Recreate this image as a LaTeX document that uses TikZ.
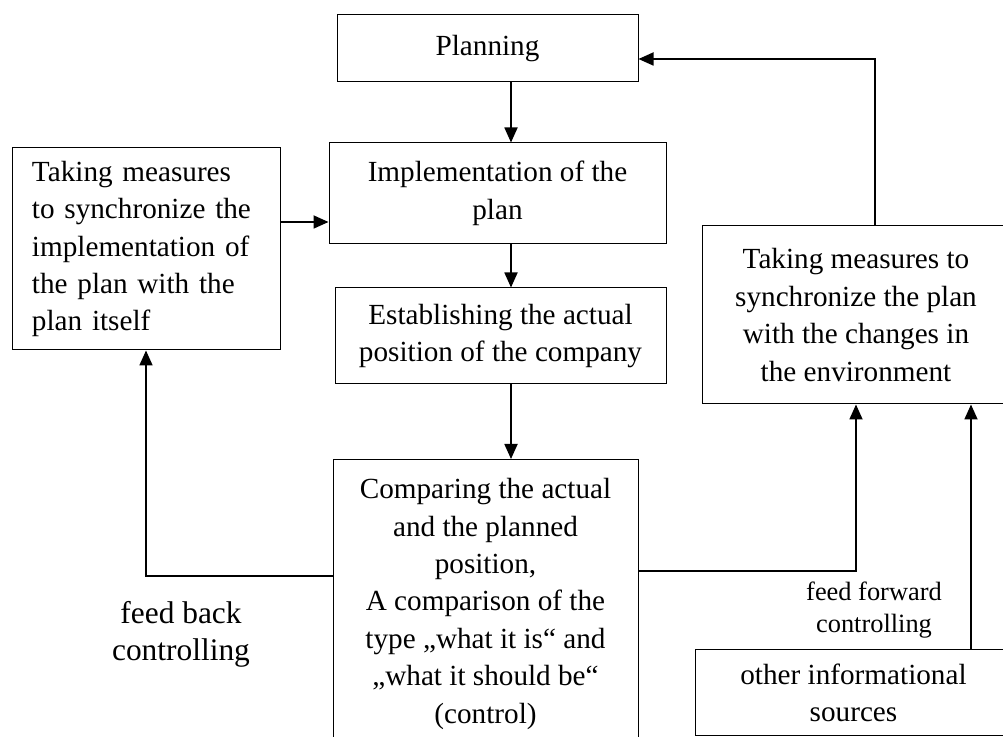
\documentclass[tikz,border=0pt]{standalone}
\usepackage{fontspec}
\setmainfont{Liberation Serif}
\usetikzlibrary{arrows.meta}

\tikzset{
  box/.style={draw, line width=0.5pt, align=center, font=\fontsize{14.6}{18.7}\selectfont},
  arr/.style={line width=0.9pt, -{Triangle[length=7.5pt,width=6.5pt]}},
}

\begin{document}
\begin{tikzpicture}[x=0.5pt,y=-0.5pt]
\useasboundingbox (0,0) rectangle (1003,737);

 \node[box, minimum width=150.5pt, minimum height=33.5pt] at (487.5,48.5) (plan) {Planning};
 \node[box, minimum width=168.5pt, minimum height=50.5pt] at (497.5,193.5) (impl) {Implementation of the\\plan};
 \node[box, minimum width=165.5pt, minimum height=48pt] at (500.5,336) (estab) {Establishing the actual\\position of the company};
 \node[box, minimum width=152.5pt, anchor=north, inner ysep=9.5pt, text depth=150pt] at (485.5,459) (comp)
   {Comparing the actual\\and the planned\\position,\\A comparison of the\\type „what it is“ and\\„what it should be“\\(control)};

 \node[box, align=left, text width=114pt, inner xsep=10pt, minimum width=134pt, minimum height=101pt] at (146,249) (sync)
   {Taking measures\\to synchronize the\\implementation of\\the plan with the\\plan itself};
 \node[box, minimum width=154pt, minimum height=89pt] at (856,315) (adapt)
   {Taking measures to\\synchronize the plan\\with the changes in\\the environment};
 \node[box, minimum width=158.5pt, minimum height=43pt] at (853.5,693) (other) {other informational\\sources};

 \node[align=center, font=\fontsize{15.7}{18.5}\selectfont] at (181,634) (fb) {feed back\\controlling};
 \node[align=center, font=\fontsize{13.2}{15.8}\selectfont] at (874,610) (ff) {feed forward\\controlling};

% where the arrows run
 \coordinate (mx) at (511,0);
 \coordinate (hy) at (0,222);
 \coordinate (tx) at (875,0);
 \coordinate (ty) at (0,59);
 \coordinate (by) at (0,576);
 \coordinate (fy) at (0,571);
 \coordinate (ox) at (971,0);

 \draw[arr] (plan.south -| mx) -- (impl.north -| mx);
 \draw[arr] (impl.south -| mx) -- (estab.north -| mx);
 \draw[arr] (estab.south -| mx) -- (comp.north -| mx);
 \draw[arr] (sync.east |- hy) -- (impl.west |- hy);
 \draw[arr] (adapt.north -| tx) -- (tx |- ty) -- (plan.east |- ty);
 \draw[arr] (comp.west |- by) -| (sync.south);
 \draw[arr] (comp.east |- fy) -| (adapt.south);
 \draw[arr] (other.north -| ox) -- (adapt.south -| ox);

\end{tikzpicture}
\end{document}
